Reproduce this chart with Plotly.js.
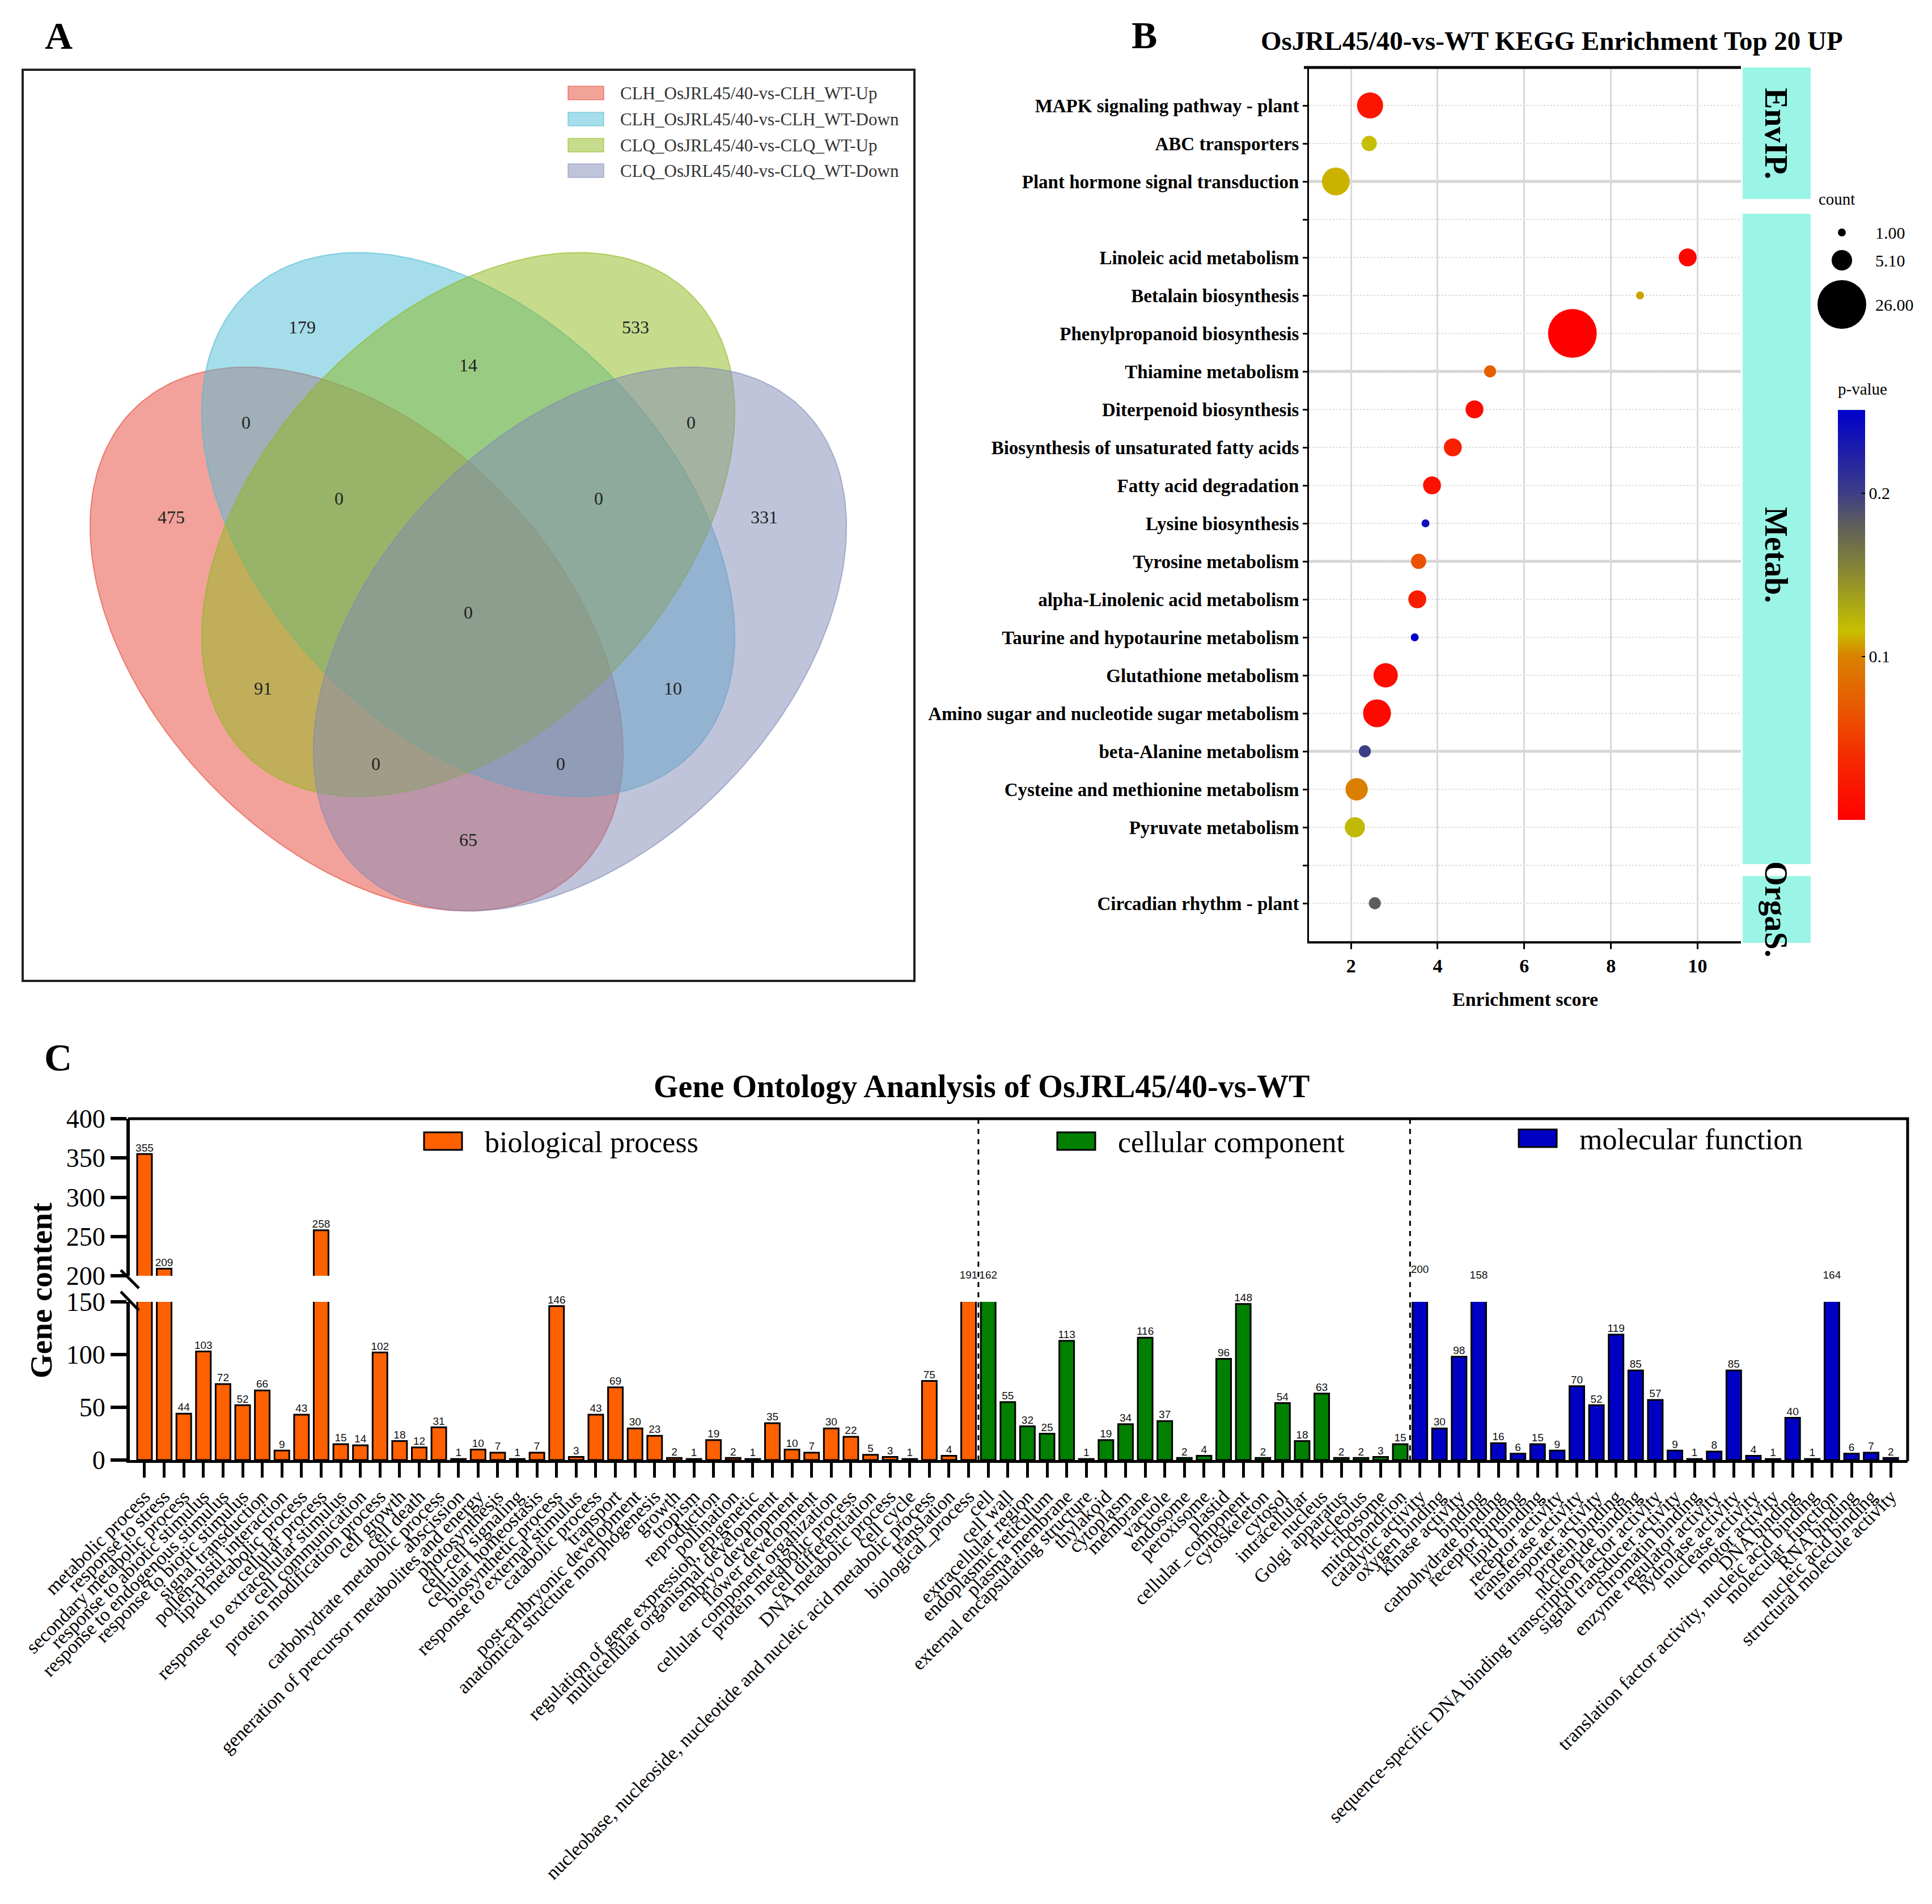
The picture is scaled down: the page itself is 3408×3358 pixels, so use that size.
<!DOCTYPE html>
<html><head><meta charset="utf-8">
<script src="https://cdn.plot.ly/plotly-3.0.1.min.js"></script>
<style>html,body{margin:0;padding:0;background:#fff}#chart{width:3408px;height:3358px}</style>
</head><body><div id="chart"></div>
<script>
// ================= DATA =================
// Panel A: Venn
const vennSets = ['CLH_OsJRL45/40-vs-CLH_WT-Up','CLH_OsJRL45/40-vs-CLH_WT-Down','CLQ_OsJRL45/40-vs-CLQ_WT-Up','CLQ_OsJRL45/40-vs-CLQ_WT-Down'];
const vennRegions = ['A','B','C','D','BC','AB','CD','AC','BD','AD','ABC','BCD','ABCD','ACD','ABD'];
const vennCounts  = [475,179,533,331,14,0,0,91,10,65,0,0,0,0,0];

// Panel B: KEGG
const keggGroups = ['EnvIP.','Metab.','OrgaS.'];
const keggTerms = ['MAPK signaling pathway - plant','ABC transporters','Plant hormone signal transduction',
 'Linoleic acid metabolism','Betalain biosynthesis','Phenylpropanoid biosynthesis','Thiamine metabolism',
 'Diterpenoid biosynthesis','Biosynthesis of unsaturated fatty acids','Fatty acid degradation','Lysine biosynthesis',
 'Tyrosine metabolism','alpha-Linolenic acid metabolism','Taurine and hypotaurine metabolism','Glutathione metabolism',
 'Amino sugar and nucleotide sugar metabolism','beta-Alanine metabolism','Cysteine and methionine metabolism',
 'Pyruvate metabolism','Circadian rhythm - plant'];
const keggGroupOf = [0,0,0,1,1,1,1,1,1,1,1,1,1,1,1,1,1,1,1,2];
const keggScore = [2.44,2.42,1.65,9.77,8.67,7.11,5.21,4.85,4.35,3.87,3.72,3.56,3.53,3.47,2.80,2.60,2.32,2.13,2.09,2.55];
const keggCount = [8,3,9,4,1,26,2,4,4,4,1,3,4,1,7,9,2,6,5,2];
const keggP     = [0.02,0.117,0.112,0.005,0.108,0.0003,0.075,0.01,0.03,0.015,0.238,0.065,0.025,0.251,0.012,0.008,0.2,0.098,0.12,0.181];
const countLegend = [1.00,5.10,26.00];

// Panel C: GO
const bpTerms = ['metabolic process','response to stress','secondary metabolic process','response to abiotic stimulus',
 'response to endogenous stimulus','response to biotic stimulus','signal transduction','pollen-pistil interaction',
 'lipid metabolic process','cellular process','response to extracellular stimulus','cell communication',
 'protein modification process','cell growth','cell death','carbohydrate metabolic process','abscission',
 'generation of precursor metabolites and energy','photosynthesis','cell-cell signaling','cellular homeostasis',
 'biosynthetic process','response to external stimulus','catabolic process','transport','post-embryonic development',
 'anatomical structure morphogenesis','growth','tropism','reproduction','pollination',
 'regulation of gene expression, epigenetic','multicellular organismal development','embryo development',
 'flower development','cellular component organization','protein metabolic process','cell differentiation',
 'DNA metabolic process','cell cycle','nucleobase, nucleoside, nucleotide and nucleic acid metabolic process',
 'translation','biological_process'];
const bpCounts = [355,209,44,103,72,52,66,9,43,258,15,14,102,18,12,31,1,10,7,1,7,146,3,43,69,30,23,2,1,19,2,1,35,10,7,30,22,5,3,1,75,4,191];
const ccTerms = ['cell','cell wall','extracellular region','endoplasmic reticulum','plasma membrane',
 'external encapsulating structure','thylakoid','cytoplasm','membrane','vacuole','endosome','peroxisome','plastid',
 'cellular_component','cytoskeleton','cytosol','intracellular','nucleus','Golgi apparatus','nucleolus','ribosome','mitochondrion'];
const ccCounts = [162,55,32,25,113,1,19,34,116,37,2,4,96,148,2,54,18,63,2,2,3,15];
const mfTerms = ['catalytic activity','oxygen binding','kinase activity','binding','carbohydrate binding',
 'receptor binding','lipid binding','receptor activity','transferase activity','transporter activity','protein binding',
 'nucleotide binding','sequence-specific DNA binding transcription factor activity','signal transducer activity',
 'chromatin binding','enzyme regulator activity','hydrolase activity','nuclease activity','motor activity','DNA binding',
 'translation factor activity, nucleic acid binding','molecular_function','RNA binding','nucleic acid binding',
 'structural molecule activity'];
const mfCounts = [200,30,98,158,16,6,15,9,70,52,119,85,57,9,1,8,85,4,1,40,1,164,6,7,2];
const goCategories = ['biological process','cellular component','molecular function'];

// ================= STYLE / LAYOUT CONSTANTS =================
const W = 3408, H = 3358;
const serif = 'Liberation Serif, Times New Roman, serif';
const sans = 'Liberation Sans, Arial, sans-serif';
const pX = x => x / W, pY = y => 1 - y / H;

// Venn geometry (canvas pixels)
const vennEll = [
  {cx:629, cy:1127, ang:45,  fill:'rgba(230,69,53,0.5)',  line:'rgba(230,69,53,0.6)'},
  {cx:826, cy:925,  ang:45,  fill:'rgba(77,187,213,0.5)', line:'rgba(77,187,213,0.6)'},
  {cx:826, cy:925,  ang:-45, fill:'rgba(141,185,25,0.5)', line:'rgba(141,185,25,0.6)'},
  {cx:1023,cy:1127, ang:-45, fill:'rgba(129,137,181,0.5)',line:'rgba(129,137,181,0.6)'}
];
const vennA = 559, vennB = 360, vennYS = 1.02;
const vennLabelPos = {A:[302,915],B:[533,580],C:[1121,580],D:[1348,915],BC:[826,647],AB:[434,748],CD:[1219,748],
  AC:[464,1217],BD:[1187,1217],AD:[826,1484],ABC:[598,882],BCD:[1056,882],ABCD:[826,1083],ACD:[663,1350],ABD:[989,1350]};
const vennLegendY = [164,210,256,301];
const vennLegendFill = ['#F2A398','#A6DDEA','#C6DC8C','#C0C4DA'];

const goColors = ['#FF6000','#007F00','#0000C4'];

// ================= BUILD =================
const traces = [];
const shapes = [];
const annotations = [];

// ---- Panel A
function ellipsePts(e){
  const th = e.ang*Math.PI/180, ux = Math.cos(th), uy = Math.sin(th);
  const xs=[], ys=[];
  for(let i=0;i<=200;i++){
    const t = 2*Math.PI*i/200, p = vennA*Math.cos(t), q = vennB*Math.sin(t);
    xs.push(e.cx + p*ux - q*uy);
    ys.push(e.cy + (p*uy + q*ux)*vennYS);
  }
  return {xs, ys};
}
vennEll.forEach(e=>{
  const pts = ellipsePts(e);
  traces.push({type:'scatter', mode:'lines', x:pts.xs, y:pts.ys, xaxis:'x3', yaxis:'y3',
    fill:'toself', fillcolor:e.fill, line:{color:e.line, width:2}, hoverinfo:'skip'});
});
traces.push({type:'scatter', mode:'text', xaxis:'x3', yaxis:'y3',
  x: vennRegions.map(r=>vennLabelPos[r][0]), y: vennRegions.map(r=>vennLabelPos[r][1]),
  text: vennCounts.map(String), textfont:{family:serif, size:32, color:'#222'}, cliponaxis:false, hoverinfo:'skip'});
shapes.push({type:'rect', xref:'x3', yref:'y3', x0:40, x1:1613, y0:123, y1:1730, line:{color:'#222', width:4}});
vennSets.forEach((s,i)=>{
  shapes.push({type:'rect', xref:'x3', yref:'y3', x0:1002, x1:1065, y0:vennLegendY[i]-12, y1:vennLegendY[i]+12,
    fillcolor:vennLegendFill[i], line:{color:vennEll[i].line, width:1.5}});
  annotations.push({xref:'x3', yref:'y3', x:1092, y:vennLegendY[i], text:s, showarrow:false, xanchor:'left', yanchor:'middle',
    font:{family:serif, size:31, color:'#333'}});
});
annotations.push({xref:'x3', yref:'y3', x:103, y:63, text:'<b>A</b>', showarrow:false, font:{family:serif, size:68, color:'#000'}});

// ---- Panel B
const rowIdx = []; let r = 0;
keggTerms.forEach((t,i)=>{ if(i>0 && keggGroupOf[i]!==keggGroupOf[i-1]) r++; rowIdx.push(r); r++; });
const nRows = r; // includes blanks
const tickVals = [], tickText = [];
for(let k=0;k<nRows;k++){ tickVals.push(k); const j = rowIdx.indexOf(k); tickText.push(j>=0 ? keggTerms[j] : ''); }
const sizeOf = c => 17.56*Math.sqrt(c) - 3.56;
const pScale = [[0,'#FF0000'],[0.15,'#F52A00'],[0.28,'#E85A00'],[0.4,'#D98200'],[0.46,'#C8C000'],
  [0.6,'#8A8A30'],[0.73,'#5A5A60'],[0.8,'#3C3C88'],[1,'#0000CC']];
traces.push({type:'scatter', mode:'markers', x:keggScore, y:rowIdx, xaxis:'x', yaxis:'y', text:keggTerms,
  marker:{size:keggCount.map(sizeOf), opacity:1, color:keggP, colorscale:pScale, cmin:0, cmax:0.251, line:{width:0},
    showscale:true,
    colorbar:{x:pX(3242), xanchor:'left', xpad:0, y:pY(1084.5), yanchor:'middle', ypad:0, len:723, lenmode:'pixels',
      thickness:48, thicknessmode:'pixels', outlinewidth:0, tickvals:[0.1,0.2], ticktext:['0.1','0.2'],
      ticks:'inside', ticklen:6, tickwidth:2, tickcolor:'#000', tickfont:{family:serif, size:30, color:'#000'}}},
  hoverinfo:'x+y+text'});
// thicker separators every 5 rows
[2,7,12,17].forEach(k=>shapes.push({type:'line', xref:'x domain', yref:'y', x0:0, x1:1, y0:k, y1:k,
  line:{color:'#D4D4D4', width:5}, layer:'below'}));
shapes.push({type:'line', xref:'x3', yref:'y3', x0:2300, x1:3071, y0:119, y1:119, line:{color:'#000', width:5}});
// strips
const stripBox = [[119,351],[377,1524],[1545,1663]];
const stripTextY = [235,979,1604];
keggGroups.forEach((g,i)=>{
  shapes.push({type:'rect', xref:'x3', yref:'y3', x0:3074, x1:3194, y0:stripBox[i][0], y1:stripBox[i][1],
    fillcolor:'#9AF5E6', line:{width:0}, layer:'below'});
  annotations.push({xref:'x3', yref:'y3', x:3133, y:stripTextY[i], text:'<b>'+g+'</b>', textangle:90, showarrow:false,
    font:{family:serif, size:56, color:'#000'}});
});
// size legend
const cntLegY = [410,459,537];
traces.push({type:'scatter', mode:'markers', xaxis:'x3', yaxis:'y3', x:countLegend.map(()=>3249), y:cntLegY,
  marker:{size:countLegend.map(sizeOf), opacity:1, color:'#000', line:{width:0}}, hoverinfo:'skip', cliponaxis:false});
countLegend.forEach((c,i)=>annotations.push({xref:'x3', yref:'y3', x:3306, y:cntLegY[i], text:c.toFixed(2),
  showarrow:false, xanchor:'left', font:{family:serif, size:30, color:'#000'}}));
annotations.push({xref:'x3', yref:'y3', x:3206, y:351, text:'count', showarrow:false, xanchor:'left', font:{family:serif, size:29, color:'#000'}});
annotations.push({xref:'x3', yref:'y3', x:3240, y:686, text:'p-value', showarrow:false, xanchor:'left', font:{family:serif, size:29, color:'#000'}});
annotations.push({xref:'x3', yref:'y3', x:2737, y:72, text:'<b>OsJRL45/40-vs-WT KEGG Enrichment Top 20 UP</b>', showarrow:false,
  font:{family:serif, size:47, color:'#000'}});
annotations.push({xref:'x3', yref:'y3', x:2690, y:1762, text:'<b>Enrichment score</b>', showarrow:false,
  font:{family:serif, size:34, color:'#000'}});
annotations.push({xref:'x3', yref:'y3', x:2018, y:62, text:'<b>B</b>', showarrow:false, font:{family:serif, size:68, color:'#000'}});

// ---- Panel C
const groupsTerms = [bpTerms, ccTerms, mfTerms], groupsCounts = [bpCounts, ccCounts, mfCounts];
const goTerms = [].concat(bpTerms, ccTerms, mfTerms);
const goCounts = [].concat(bpCounts, ccCounts, mfCounts);
let off = 0; const groupStart = [];
groupsTerms.forEach((terms,g)=>{
  groupStart.push(off);
  const xs = terms.map((t,i)=>off+i);
  const ys = groupsCounts[g];
  traces.push({type:'bar', x:xs, y:ys, xaxis:'x2', yaxis:'y2', width:0.75, text:terms, hoverinfo:'text+y', textposition:'none',
    marker:{color:goColors[g], line:{color:'#000', width:3}}});
  traces.push({type:'bar', x:xs, y:ys.map(v=>v>200?v:null), xaxis:'x2', yaxis:'y4', width:0.75, hoverinfo:'skip', textposition:'none',
    marker:{color:goColors[g], line:{color:'#000', width:3}}});
  off += terms.length;
});
const goX = goCounts.map((v,i)=>i);
const lowIdx = goX.filter(i=>goCounts[i]<=150), highIdx = goX.filter(i=>goCounts[i]>150);
traces.push({type:'scatter', mode:'text', xaxis:'x2', yaxis:'y2', x:lowIdx, y:lowIdx.map(i=>goCounts[i]),
  text:lowIdx.map(i=>String(goCounts[i])), textposition:'top center', cliponaxis:false, hoverinfo:'skip',
  textfont:{family:sans, size:19, color:'#111'}});
traces.push({type:'scatter', mode:'text', xaxis:'x2', yaxis:'y4', x:highIdx, y:highIdx.map(i=>Math.max(200,goCounts[i])),
  text:highIdx.map(i=>String(goCounts[i])), textposition:highIdx.map(i=>goCounts[i]>=200?'top center':'middle center'),
  cliponaxis:false, hoverinfo:'skip', textfont:{family:sans, size:19, color:'#111'}});
// separators between GO categories
[groupStart[1]-0.5, groupStart[2]-0.5].forEach(xv=>shapes.push({type:'line', xref:'x2', yref:'y3', x0:xv, x1:xv, y0:1973, y1:2575,
  line:{color:'#000', width:3, dash:'dash'}}));
// frame & axis break
shapes.push({type:'line', xref:'x3', yref:'y3', x0:226, x1:3367, y0:1973, y1:1973, line:{color:'#000', width:5}});
shapes.push({type:'line', xref:'x3', yref:'y3', x0:3365, x1:3365, y0:1971, y1:2577, line:{color:'#000', width:5}});
shapes.push({type:'line', xref:'x3', yref:'y3', x0:213, x1:245, y0:2240, y1:2272, line:{color:'#000', width:5}});
shapes.push({type:'line', xref:'x3', yref:'y3', x0:213, x1:245, y0:2278, y1:2311, line:{color:'#000', width:5}});
// legend boxes
const legBox = [[748,1997],[1865,1997],[2679,1992]];
goCategories.forEach((c,g)=>{
  shapes.push({type:'rect', xref:'x3', yref:'y3', x0:legBox[g][0], x1:legBox[g][0]+67, y0:legBox[g][1], y1:legBox[g][1]+31,
    fillcolor:goColors[g], line:{color:'#000', width:3}});
  annotations.push({xref:'x3', yref:'y3', x:legBox[g][0]+105, y:legBox[g][1]+17, text:c, showarrow:false, xanchor:'left', yanchor:'middle',
    font:{family:serif, size:52, color:'#000'}});
});
annotations.push({xref:'x3', yref:'y3', x:1731, y:1916, text:'<b>Gene Ontology Ananlysis of OsJRL45/40-vs-WT</b>', showarrow:false,
  font:{family:serif, size:56, color:'#000'}});
annotations.push({xref:'x3', yref:'y3', x:72, y:2276, text:'<b>Gene content</b>', textangle:-90, showarrow:false,
  font:{family:serif, size:55, color:'#000'}});
annotations.push({xref:'x3', yref:'y3', x:102, y:1865, text:'<b>C</b>', showarrow:false, font:{family:serif, size:68, color:'#000'}});

const layout = {
  width:W, height:H, margin:{l:0,r:0,t:0,b:0,pad:0},
  paper_bgcolor:'#ffffff', plot_bgcolor:'rgba(0,0,0,0)', showlegend:false, barmode:'overlay',
  font:{family:serif, color:'#000'},
  // Panel B axes
  xaxis:{domain:[pX(2309),pX(3071)], range:[1.03,11], anchor:'y', tickvals:[2,4,6,8,10],
    ticks:'outside', ticklen:10, tickwidth:3, tickcolor:'#000', showline:true, linecolor:'#000', linewidth:4,
    showgrid:true, gridcolor:'#D9D9D9', gridwidth:3, zeroline:false, automargin:false,
    tickfont:{family:serif, size:34, weight:'bold', color:'#000'}},
  yaxis:{domain:[pY(1660),pY(119)], range:[nRows,-1], anchor:'x', tickvals:tickVals, ticktext:tickText,
    ticks:'outside', ticklen:8, tickwidth:3, tickcolor:'#000', showline:true, linecolor:'#000', linewidth:3,
    showgrid:true, gridcolor:'#DCDCDC', gridwidth:2, griddash:'dot', zeroline:false, automargin:false,
    tickfont:{family:serif, size:33, weight:'bold', color:'#000'}},
  // Panel C axes
  xaxis2:{domain:[pX(229),pX(3365)], range:[-0.75,89.86], anchor:'y2', tickvals:goX, ticktext:goTerms, tickangle:-45,
    ticks:'outside', ticklen:26, tickwidth:5, tickcolor:'#000', showline:true, linecolor:'#000', linewidth:5,
    showgrid:false, zeroline:false, automargin:false, tickfont:{family:serif, size:34, color:'#000'}},
  yaxis2:{domain:[pY(2575),pY(2296)], range:[0,150], anchor:'x2', tickvals:[0,50,100,150],
    ticks:'outside', ticklen:28, tickwidth:6, tickcolor:'#000', showline:true, linecolor:'#000', linewidth:6,
    showgrid:false, zeroline:false, automargin:false, tickfont:{family:serif, size:46, color:'#000'}},
  yaxis4:{domain:[pY(2250),pY(1973)], range:[200,400], anchor:'x2', tickvals:[200,250,300,350,400],
    ticks:'outside', ticklen:28, tickwidth:6, tickcolor:'#000', showline:true, linecolor:'#000', linewidth:6,
    showgrid:false, zeroline:false, automargin:false, tickfont:{family:serif, size:46, color:'#000'}},
  // pixel canvas
  xaxis3:{domain:[0,1], range:[0,W], anchor:'y3', visible:false, fixedrange:true},
  yaxis3:{domain:[0,1], range:[H,0], anchor:'x3', visible:false, fixedrange:true},
  shapes:shapes, annotations:annotations
};
Plotly.newPlot('chart', traces, layout, {staticPlot:true, displayModeBar:false});
</script>
</body></html>
